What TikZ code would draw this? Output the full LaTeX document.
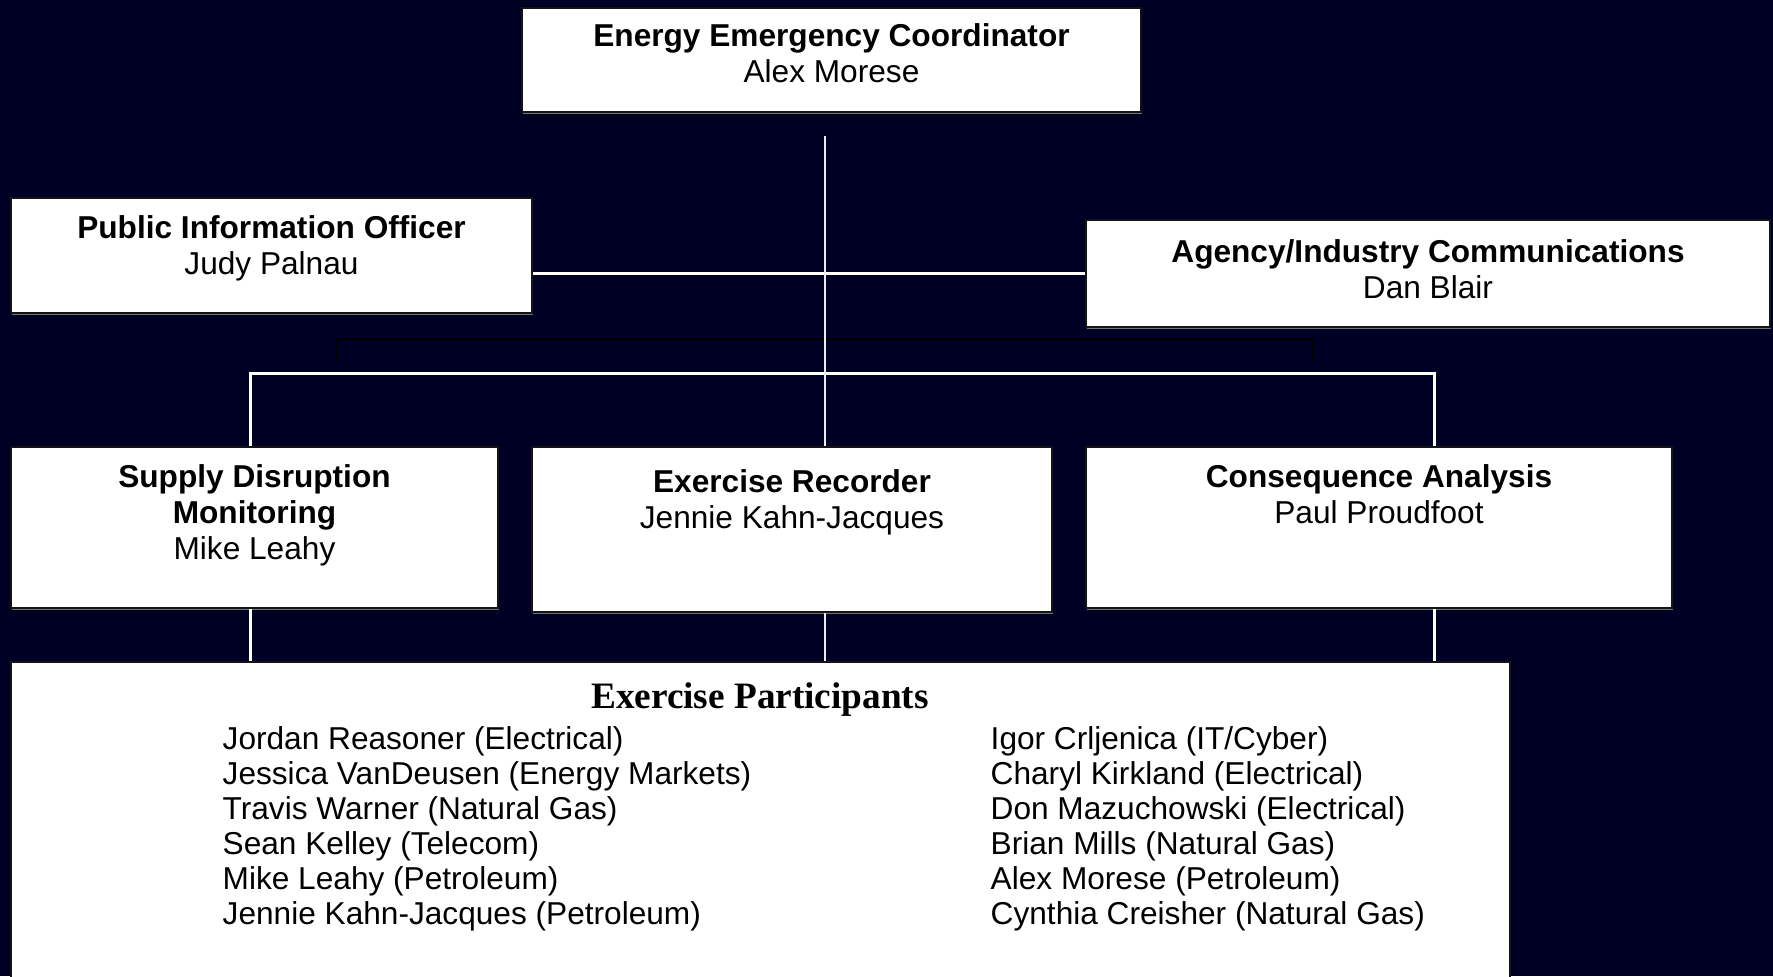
\documentclass[tikz,border=0pt]{standalone}
\usepackage{fontspec}
\setmainfont{Liberation Sans}
\newfontfamily\timesfont{Liberation Serif}
\usepackage{xcolor}
\usepackage{tikz}
\usetikzlibrary{positioning, calc, shadows}
\definecolor{navybg}{RGB}{0, 0, 36}
\definecolor{boxedge}{RGB}{20, 20, 20}
\definecolor{linegray}{RGB}{235, 235, 240}

\begin{document}
\begin{tikzpicture}[
    box/.style={rectangle, draw=boxedge, fill=white, line width=0.5pt, inner sep=0pt,
                drop shadow={shadow xshift=0.4pt, shadow yshift=-0.6pt, fill=gray, opacity=0.9}},
    role/.style={font=\fontsize{9}{10.3}\selectfont, align=center, inner sep=0pt, anchor=north},
    member/.style={font=\fontsize{9}{9.95}\selectfont, align=left, inner sep=0pt, anchor=north west},
    wline/.style={draw=white, line width=0.03cm},
    thinline/.style={draw=linegray, line width=0.018cm},
    bline/.style={draw=black, line width=0.025cm}
]
    % Background
    \useasboundingbox (0,0) rectangle (17.73,-9.76);
    \fill[navybg] (0,0) rectangle (17.73,-9.76);

    % Coordinator
    \node[box, minimum width=6.19cm, minimum height=1.04cm] (coord) at (8.315,-0.60) {};
    \node[role, below=0.155cm of coord.north] (coordtxt)
        {\textbf{Energy Emergency Coordinator}\\Alex Morese};

    % Staff boxes
    \node[box, minimum width=5.21cm, minimum height=1.15cm] (pio) at (2.715,-2.555) {};
    \node[box, minimum width=6.84cm, minimum height=1.07cm] (agency) at (14.28,-2.735) {};
    \node[role, below=0.175cm of pio.north] (piotxt)
        {\textbf{Public Information Officer}\\Judy Palnau};
    \node[role, below=0.195cm of agency.north] (agencytxt)
        {\textbf{Agency/Industry Communications}\\Dan Blair};

    % Section boxes
    \node[box, minimum width=4.87cm, minimum height=1.61cm] (supply) at (2.545,-5.275) {};
    \node[box, minimum width=5.20cm, minimum height=1.65cm] (recorder) at (7.92,-5.295) {};
    \node[box, minimum width=5.86cm, minimum height=1.61cm] (consequence) at (13.79,-5.275) {};

    \node[role, below=0.175cm of supply.north] (supplytxt)
        {\textbf{Supply Disruption}\\\textbf{Monitoring}\\Mike Leahy};
    \node[role, below=0.225cm of recorder.north] (recordertxt)
        {\textbf{Exercise Recorder}\\Jennie Kahn-Jacques};
    \node[role, below=0.175cm of consequence.north] (consequencetxt)
        {\textbf{Consequence Analysis}\\Paul Proudfoot};

    % Participants
    \node[box, minimum width=14.99cm, minimum height=3.40cm] (participants) at (7.605,-8.32) {};
    \node[font=\timesfont\bfseries\fontsize{10.6}{12}\selectfont, inner sep=0pt] (parttitle) at (7.60,-7.00)
        {Exercise Participants};
    \node[member] (leftcol) at (2.22,-7.26)
        {Jordan Reasoner (Electrical)\\Jessica VanDeusen (Energy Markets)\\Travis Warner (Natural Gas)\\Sean Kelley (Telecom)\\Mike Leahy (Petroleum)\\Jennie Kahn-Jacques (Petroleum)};
    \node[member] (rightcol) at (9.90,-7.26)
        {Igor Crljenica (IT/Cyber)\\Charyl Kirkland (Electrical)\\Don Mazuchowski (Electrical)\\Brian Mills (Natural Gas)\\Alex Morese (Petroleum)\\Cynthia Creisher (Natural Gas)};

    % Connector points
    \coordinate (hub) at (8.25,-1.36);
    \coordinate (sdrop) at (2.50,-3.73);
    \coordinate (cdrop) at (14.34,-3.73);
    \coordinate (bl) at (3.37,-3.62);
    \coordinate (br) at (13.13,-3.62);

    % Black bracket
    \draw[bline] (bl) -- ++(0,0.23) -| (br);

    % Staff line
    \draw[wline] (pio.east |- agency.west) -- (agency.west);

    % Bar to sections
    \draw[wline] (sdrop |- supply.north) -- (sdrop) -- (cdrop) -- (cdrop |- consequence.north);

    % Main trunk
    \draw[thinline] (hub) -- (hub |- recorder.north);

    % Sections to participants
    \draw[wline] (sdrop |- supply.south) -- (sdrop |- participants.north);
    \draw[thinline] (hub |- recorder.south) -- (hub |- participants.north);
    \draw[wline] (cdrop |- consequence.south) -- (cdrop |- participants.north);
\end{tikzpicture}
\end{document}
